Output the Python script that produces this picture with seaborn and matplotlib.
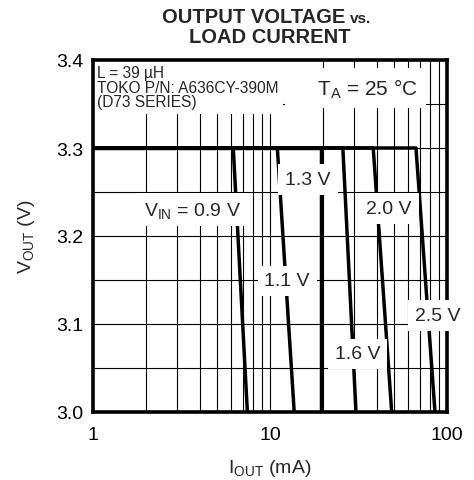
import matplotlib
matplotlib.use("Agg")
import matplotlib.pyplot as plt
import seaborn as sns
from matplotlib.ticker import FixedLocator, LogLocator, MultipleLocator, NullFormatter

# input voltage curves: flat at regulation, then dropping to 3.0 V
vin_labels = ["0.9 V", "1.1 V", "1.3 V", "1.6 V", "2.0 V", "2.5 V"]
knee_ma = [6.2, 11.0, 19.4, 25.8, 38.3, 66.8]   # current where VOUT leaves 3.3 V
end_ma = [7.45, 13.7, 19.4, 30.6, 48.7, 85.5]   # current where VOUT reaches 3.0 V
start_ma = 1.0
v_reg = 3.3
v_end = 3.0

label_x = [3.63, 12.5, 16.4, 31.2, 47.0, 89.0]
label_y = [3.23, 3.149, 3.264, 3.066, 3.231, 3.110]

x_ticks = [1, 10, 100]
y_ticks = [3.0, 3.1, 3.2, 3.3, 3.4]

sns.set_style("ticks")
plt.rcParams["font.family"] = ["Liberation Sans", "DejaVu Sans"]
plt.rcParams["mathtext.fontset"] = "custom"
plt.rcParams["mathtext.rm"] = "Liberation Sans"

fig = plt.figure(figsize=(4.74, 4.81), dpi=100)
ax = fig.add_axes([93 / 474, 1 - 413 / 481, 354 / 474, 352 / 481])

for i in range(len(vin_labels)):
    xs = [start_ma, knee_ma[i], end_ma[i]]
    ys = [v_reg, v_reg, v_end]
    sns.lineplot(x=xs, y=ys, sort=False, estimator=None, color="black",
                 linewidth=2.5, ax=ax, zorder=2)

ax.set_xscale("log")
ax.set_xlim(1, 100)
ax.set_ylim(3.0, 3.4)
ax.xaxis.set_major_locator(FixedLocator(x_ticks))
ax.set_xticklabels([str(t) for t in x_ticks])
ax.xaxis.set_minor_locator(LogLocator(base=10, subs=range(2, 10)))
ax.xaxis.set_minor_formatter(NullFormatter())
ax.yaxis.set_major_locator(FixedLocator(y_ticks))
ax.set_yticklabels([f"{t:.1f}" for t in y_ticks])
ax.yaxis.set_minor_locator(MultipleLocator(0.05))
ax.grid(which="both", color="black", linewidth=0.8)
ax.tick_params(which="both", length=0, labelsize=14, colors="black")
ax.tick_params(axis="x", pad=10)
ax.tick_params(axis="y", pad=7)
for sp in ax.spines.values():
    sp.set_visible(True)
    sp.set_linewidth(2.6)
    sp.set_color("black")

ax.set_xlabel(r"$\mathregular{I_{OUT}}$ (mA)", fontsize=14, labelpad=10)
ax.set_ylabel(r"$\mathregular{V_{OUT}}$ (V)", fontsize=14, labelpad=14)

box = dict(boxstyle="square,pad=0.35", facecolor="white", edgecolor="none")
for i, lab in enumerate(vin_labels):
    txt = r"$\mathregular{V_{IN}}$ = " + lab if i == 0 else lab
    ax.text(label_x[i], label_y[i], txt, fontsize=14, ha="center", va="center",
            bbox=box, zorder=5, clip_on=False)

ax.text(0.012, 0.985, "L = 39 µH\nTOKO P/N: A636CY-390M\n(D73 SERIES)",
        transform=ax.transAxes, ha="left", va="top", fontsize=11.2, linespacing=0.95,
        bbox=dict(boxstyle="square,pad=0.3", facecolor="white", edgecolor="none"),
        zorder=2.2)
# leading spaces widen the white box so it meets the info box
ax.text(68, 3.368, r"    $\mathregular{T_A}$ = 25 °C", fontsize=15, ha="right", va="center",
        bbox=dict(boxstyle="square,pad=0.4", facecolor="white", edgecolor="none"),
        zorder=2.2)

fig.text(345 / 474, 1 - 23 / 481, "OUTPUT VOLTAGE", fontsize=14.5, fontweight="bold",
         ha="right", va="baseline")
fig.text(350 / 474, 1 - 23 / 481, "vs.", fontsize=11, fontweight="bold",
         ha="left", va="baseline")
fig.text(270 / 474, 1 - 43 / 481, "LOAD CURRENT", fontsize=14.5, fontweight="bold",
         ha="center", va="baseline")

fig.savefig("out.png", dpi=100)
